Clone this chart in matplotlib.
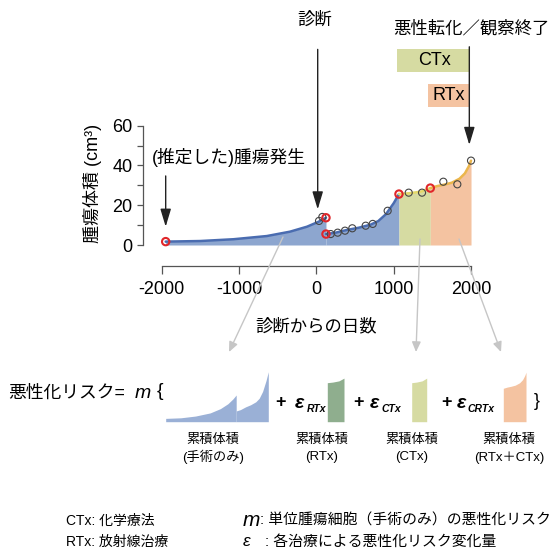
import matplotlib
matplotlib.use("Agg")
import matplotlib.pyplot as plt

plt.rcParams['font.family'] = ['Liberation Sans', 'Noto Sans CJK JP']

# ---- 図から読み取った値 ----
# 腫瘍体積カーブ（手術のみ：診断前）
pre_x = [-1946, -1500, -1070, -640, -340, -120, 30, 125]
pre_y = [1.7, 2.0, 2.9, 4.5, 6.7, 9.2, 11.7, 13.7]
# 手術のみ：診断後
post_x = [125, 250, 400, 550, 700, 800, 900, 1000, 1068]
post_y = [5.5, 6.2, 7.6, 8.7, 10.2, 12.0, 15.5, 21.0, 25.6]
# CTx 期間
ctx_x = [1068, 1200, 1350, 1473]
ctx_y = [25.6, 26.0, 26.8, 28.6]
# RTx + CTx 期間
crtx_x = [1473, 1560, 1650, 1750, 1850, 1920, 1970, 1999]
crtx_y = [28.6, 29.6, 30.3, 31.3, 33.3, 36.0, 39.5, 42.4]

# 測定値（黒）と推定点（赤）
obs_x = [35, 78, 186, 276, 371, 465, 638, 729, 922, 1194, 1366, 1641, 1822, 1999]
obs_y = [12.1, 14.1, 5.5, 6.2, 7.2, 8.4, 9.7, 10.6, 17.2, 26.3, 26.3, 31.8, 30.5, 42.4]
red_x = [-1946, 125, 125, 1068, 1473]
red_y = [1.7, 13.7, 5.5, 25.6, 28.6]

# 治療期間
ctx_period = (1046, 1977)
rtx_period = (1447, 1977)
# イベント
onset_x = -1946
diag_x = 18
end_x = 1977

x_ticks = [-2000, -1000, 0, 1000, 2000]
y_ticks = [0, 20, 40, 60]
y_minor = [10, 30, 50]

blue_line = '#4a6cb0'
blue_fill = '#8da6cf'
ctx_line = '#e4d86a'
ctx_fill = '#d6dba2'
crtx_line = '#ebb64c'
crtx_fill = '#f4c3a1'
rtx_col = '#8fae8e'

W, H = 553, 548


def box(l, t, r, b):
    return [l / W, 1 - b / H, (r - l) / W, (b - t) / H]


fig = plt.figure(figsize=(W / 100, H / 100), dpi=100)

# ---- メインのグラフ ----
ax = fig.add_axes(box(142.7, 115.65, 509.8, 265.7))
ax.fill_between(pre_x, pre_y, 0, color=blue_fill, lw=0)
ax.fill_between(post_x, post_y, 0, color=blue_fill, lw=0)
ax.fill_between(ctx_x, ctx_y, 0, color=ctx_fill, lw=0)
ax.fill_between(crtx_x, crtx_y, 0, color=crtx_fill, lw=0)
ax.plot(pre_x, pre_y, color=blue_line, lw=1.8, solid_capstyle='round')
ax.plot(post_x, post_y, color=blue_line, lw=1.8, solid_capstyle='round')
ax.plot(ctx_x, ctx_y, color=ctx_line, lw=1.8, solid_capstyle='round')
ax.plot(crtx_x, crtx_y, color=crtx_line, lw=1.8, solid_capstyle='round')
ax.scatter(obs_x, obs_y, s=26, facecolors='none', edgecolors='#444444', linewidths=0.8, zorder=4)
ax.scatter(red_x, red_y, s=28, facecolors='none', edgecolors='#e0262a', linewidths=1.5, zorder=5)

ax.barh(92.7, ctx_period[1] - ctx_period[0], left=ctx_period[0], height=11.2,
        color=ctx_fill, clip_on=False)
ax.barh(75.2, rtx_period[1] - rtx_period[0], left=rtx_period[0], height=11.4,
        color=crtx_fill, clip_on=False)
ax.text(sum(ctx_period) / 2 + 20, 92.7, 'CTx', ha='center', va='center', fontsize=13)
ax.text(sum(rtx_period) / 2 + 2, 75.2, 'RTx', ha='center', va='center', fontsize=13)

arw = dict(arrowstyle='-|>,head_length=0.6,head_width=0.18', color='#222222', lw=1,
           mutation_scale=18, shrinkA=0, shrinkB=0)
ax.annotate('', xy=(onset_x, 9.2), xytext=(onset_x, 34.7), arrowprops=arw, annotation_clip=False)
ax.annotate('', xy=(diag_x, 17.9), xytext=(diag_x, 98.3), arrowprops=arw, annotation_clip=False)
ax.annotate('', xy=(end_x, 50.3), xytext=(end_x, 99.6), arrowprops=arw, annotation_clip=False)

ax.set_xlim(-2243, 2500)
ax.set_ylim(-10.4, 65)
for s in ['top', 'right']:
    ax.spines[s].set_visible(False)
ax.spines['left'].set_bounds(0, 60)
ax.spines['bottom'].set_bounds(-2000, 2000)
for s in ['left', 'bottom']:
    ax.spines[s].set_color('#555555')
    ax.spines[s].set_linewidth(0.9)
ax.set_xticks(x_ticks)
ax.set_xticklabels([str(v) for v in x_ticks])
ax.set_yticks(y_ticks)
ax.set_yticks(y_minor, minor=True)
ax.tick_params(axis='y', which='both', length=4, width=0.9, color='#555555', labelsize=13, pad=3.5)
ax.tick_params(axis='x', which='both', length=6, width=0.9, color='#555555', labelsize=13, pad=5)
ax.patch.set_alpha(0)

# ---- 注記用の重ね合わせ (ピクセル座標) ----
ov = fig.add_axes([0, 0, 1, 1])
ov.set_xlim(0, W)
ov.set_ylim(H, 0)
ov.axis('off')
ov.patch.set_alpha(0)

ov.text(315, 19.5, '診断', ha='center', va='center', fontsize=12.5)
ov.text(471.5, 28, '悪性転化／観察終了', ha='center', va='center', fontsize=12.5)
ov.text(151.7, 157, '(推定した)腫瘍発生', ha='left', va='center', fontsize=12.8)
ov.text(316, 326, '診断からの日数', ha='center', va='center', fontsize=12.5)
ov.text(92, 183, '腫瘍体積 (cm³)', ha='center', va='center', rotation=90, fontsize=13)

garw = dict(arrowstyle='-|>,head_length=0.5,head_width=0.22', color='#c6c6c6', lw=1,
            mutation_scale=12, shrinkA=0, shrinkB=0)
ov.annotate('', xy=(229, 352), xytext=(283, 237), arrowprops=garw)
ov.annotate('', xy=(416, 352), xytext=(420, 239), arrowprops=garw)
ov.annotate('', xy=(501, 352), xytext=(459, 239), arrowprops=garw)

# 式
ov.text(8, 393.5, '悪性化リスク=', ha='left', va='center', fontsize=12.8)
ov.text(135, 393, 'm', ha='left', va='center', fontsize=14, style='italic')
ov.text(157, 392, '{', ha='left', va='center', fontsize=14)

for px_ in [280, 358, 446.5]:
    ov.text(px_, 403, '+', ha='center', va='center', fontsize=13, fontweight='bold')
ov.text(295, 403, 'ε', ha='left', va='center', fontsize=14, style='italic', fontweight='bold')
ov.text(306.5, 408.5, 'RTx', ha='left', va='center', fontsize=7.5, style='italic', fontweight='bold')
ov.text(370, 403, 'ε', ha='left', va='center', fontsize=14, style='italic', fontweight='bold')
ov.text(381.5, 408.5, 'CTx', ha='left', va='center', fontsize=7.5, style='italic', fontweight='bold')
ov.text(456.5, 403, 'ε', ha='left', va='center', fontsize=14, style='italic', fontweight='bold')
ov.text(468, 408.5, 'CRTx', ha='left', va='center', fontsize=7.5, style='italic', fontweight='bold')
ov.text(536.5, 401.5, '}', ha='center', va='center', fontsize=13)

# 累積体積の小さな図形
a1 = fig.add_axes(box(165.7, 371, 268.3, 421.7))
a1.fill_between(pre_x, pre_y, 0, color='#9ab0d6', lw=0)
a1.fill_between(post_x, post_y, 0, color='#9ab0d6', lw=0)
a1.set_xlim(pre_x[0], post_x[-1])
a1.set_ylim(0, 26)
a1.axis('off')

for l, r, xs, ys, col, top in [(327.3, 344, ctx_x, ctx_y, rtx_col, 30),
                               (411.7, 426.7, ctx_x, ctx_y, ctx_fill, 30),
                               (503.3, 526, crtx_x, crtx_y, crtx_fill, 45)]:
    sc = 39 / 25.6 if top == 30 else 33.4 / 28.6
    a = fig.add_axes(box(l, 421.7 - top * sc, r, 421.7))
    a.fill_between(xs, ys, 0, color=col, lw=0)
    a.set_xlim(xs[0], xs[-1])
    a.set_ylim(0, top)
    a.axis('off')

lab_y1, lab_y2 = 440, 457.3
for cx, l2 in [(213, '(手術のみ)'), (321.7, '(RTx)'), (412, '(CTx)'), (509, '(RTx＋CTx)')]:
    ov.text(cx, lab_y1, '累積体積', ha='center', va='center', fontsize=9.5)
    ov.text(cx, lab_y2, l2, ha='center', va='center', fontsize=9.5)

# 凡例テキスト
ov.text(66, 521, 'CTx: 化学療法', ha='left', va='center', fontsize=10)
ov.text(66, 542, 'RTx: 放射線治療', ha='left', va='center', fontsize=10)
ov.text(243, 520, 'm', ha='left', va='center', fontsize=15, style='italic')
ov.text(260, 521, ': 単位腫瘍細胞（手術のみ）の悪性化リスク', ha='left', va='center', fontsize=10.7)
ov.text(243, 541, 'ε', ha='left', va='center', fontsize=12.5, style='italic')
ov.text(265, 542, ': 各治療による悪性化リスク変化量', ha='left', va='center', fontsize=10.7)

fig.savefig('out.png', dpi=100)
